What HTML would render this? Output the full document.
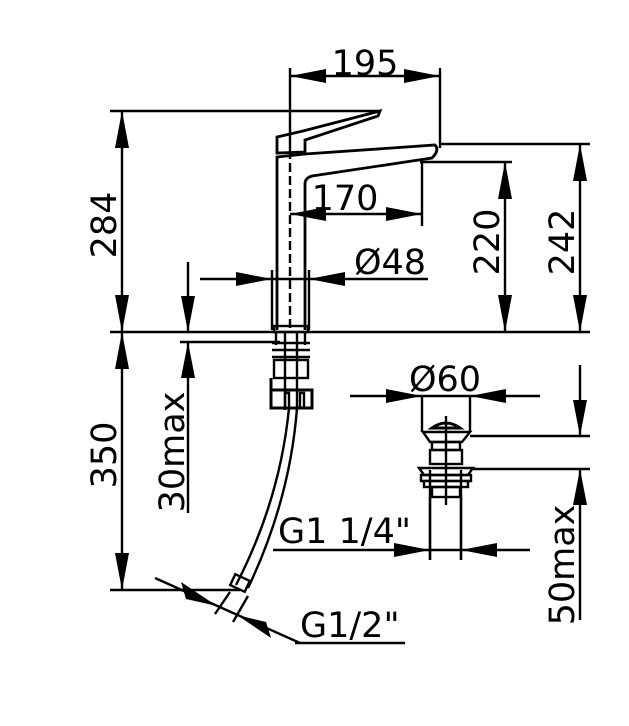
<!DOCTYPE html>
<html><head><meta charset="utf-8"><style>html,body{margin:0;padding:0;background:#fff}svg{display:block}text{font-family:"DejaVu Sans","Liberation Sans",sans-serif;font-size:35px;fill:#000}</style></head>
<body>
<svg width="629" height="726" viewBox="0 0 629 726" xmlns="http://www.w3.org/2000/svg">
<g stroke="#000" stroke-width="2.4" fill="none">
<line x1="110" y1="332" x2="590" y2="332"/>
<line x1="110" y1="111" x2="380" y2="111"/>
<line x1="110" y1="590" x2="240" y2="590"/>
<line x1="122" y1="111" x2="122" y2="590"/>
<line x1="290" y1="76" x2="440" y2="76"/>
<line x1="290" y1="68" x2="290" y2="150"/>
<line x1="440" y1="68" x2="440" y2="148"/>
<line x1="290" y1="150" x2="290" y2="330" stroke-dasharray="9,4"/>
<line x1="440" y1="144" x2="590" y2="144"/>
<line x1="420" y1="162" x2="512" y2="162"/>
<line x1="505" y1="162" x2="505" y2="332"/>
<line x1="580" y1="144" x2="580" y2="332"/>
<line x1="290" y1="214" x2="422" y2="214"/>
<line x1="422" y1="163" x2="422" y2="226"/>
<line x1="200" y1="279" x2="428" y2="279"/>
<line x1="272" y1="270" x2="272" y2="330"/>
<line x1="309" y1="270" x2="309" y2="330"/>
<path d="M277 330 V157 L305 154 L435 145 Q440 150 432 158 L412 161 L312 176 Q305 178 305 184 V330" stroke-width="2.8"/>
<path d="M277 153 V137 L303 131 L380 111 L378 116 L305 140 V152 Z" stroke-width="2.8"/>
<rect x="274" y="326" width="34" height="6"/>
<line x1="188" y1="262" x2="188" y2="332"/>
<line x1="188" y1="342" x2="188" y2="513"/>
<line x1="180" y1="342" x2="280" y2="342"/>
<path d="M276 332 V345 M305 332 V345 M285 332 V410 M297 332 V410"/>
<line x1="272" y1="343" x2="310" y2="343"/>
<line x1="272" y1="350" x2="310" y2="350"/>
<line x1="272" y1="357" x2="310" y2="357"/>
<rect x="274" y="360" width="34" height="18"/>
<rect x="271" y="390" width="41" height="18" stroke-width="3"/>
<path d="M285 408 V393 h4 v15 M300 408 V393 h4 v15"/>
<line x1="271" y1="378" x2="271" y2="408" stroke-width="3"/>
<path d="M289 408 Q280 500 236 585"/>
<path d="M297 408 Q290 500 248 588"/>
<rect x="232" y="577" width="16" height="12" transform="rotate(25 240 583)"/>
<line x1="230" y1="592" x2="215" y2="614"/>
<line x1="248" y1="596" x2="233" y2="622"/>
<line x1="155" y1="578" x2="300" y2="643"/>
<line x1="295" y1="643" x2="405" y2="643"/>
<line x1="273" y1="550" x2="530" y2="550"/>
<line x1="430" y1="470" x2="430" y2="560"/>
<line x1="461" y1="470" x2="461" y2="560"/>
<line x1="350" y1="396" x2="540" y2="396"/>
<line x1="422" y1="396" x2="422" y2="432"/>
<line x1="470" y1="396" x2="470" y2="432"/>
<path d="M432 428 Q446 418 460 428 Z" stroke-width="3"/>
<path d="M423 432 H470 L462 442 H430 Z"/>
<rect x="432" y="442" width="28" height="8"/>
<rect x="430" y="450" width="32" height="14"/>
<path d="M419 468 H473 L468 475 H424 Z"/>
<rect x="421" y="475" width="50" height="6"/>
<rect x="424" y="481" width="44" height="6"/>
<rect x="432" y="487" width="28" height="10"/>
<line x1="446" y1="416" x2="446" y2="505"/>
<line x1="430" y1="497" x2="430" y2="560"/>
<line x1="461" y1="497" x2="461" y2="560"/>
<line x1="470" y1="436" x2="590" y2="436"/>
<line x1="470" y1="469" x2="590" y2="469"/>
<line x1="580" y1="365" x2="580" y2="436"/>
<line x1="580" y1="469" x2="580" y2="620"/>
</g>
<g fill="#000">
<polygon points="122,111 115,148 129,148"/>
<polygon points="122,332 115,295 129,295"/>
<polygon points="122,332 115,369 129,369"/>
<polygon points="122,590 115,553 129,553"/>
<polygon points="290,76 326,69 326,83"/>
<polygon points="440,76 404,69 404,83"/>
<polygon points="290,214 326,207 326,221"/>
<polygon points="422,214 386,207 386,221"/>
<polygon points="272,279 236,272 236,286"/>
<polygon points="309,279 345,272 345,286"/>
<polygon points="505,162 498,199 512,199"/>
<polygon points="505,332 498,295 512,295"/>
<polygon points="580,144 573,181 587,181"/>
<polygon points="580,332 573,295 587,295"/>
<polygon points="188,332 181,296 195,296"/>
<polygon points="188,342 181,378 195,378"/>
<polygon points="422,396 386,389 386,403"/>
<polygon points="470,396 506,389 506,403"/>
<polygon points="430,550 394,543 394,557"/>
<polygon points="461,550 497,543 497,557"/>
<polygon points="580,436 573,400 587,400"/>
<polygon points="580,469 573,505 587,505"/>
<polygon points="217,606 181,582 186,599"/>
<polygon points="237,615 271,638 266,622"/>
</g>
<text x="365" y="75" text-anchor="middle">195</text>
<text x="345" y="210" text-anchor="middle">170</text>
<text x="390" y="274" text-anchor="middle">Ø48</text>
<text x="445" y="391" text-anchor="middle">Ø60</text>
<text x="278" y="543">G1 1/4"</text>
<text x="300" y="637">G1/2"</text>
<text transform="translate(116 225) rotate(-90)" text-anchor="middle">284</text>
<text transform="translate(116 455) rotate(-90)" text-anchor="middle">350</text>
<text transform="translate(184 452) rotate(-90)" text-anchor="middle">30max</text>
<text transform="translate(499 242) rotate(-90)" text-anchor="middle">220</text>
<text transform="translate(574 242) rotate(-90)" text-anchor="middle">242</text>
<text transform="translate(574 565) rotate(-90)" text-anchor="middle">50max</text>
</svg>
</body></html>
